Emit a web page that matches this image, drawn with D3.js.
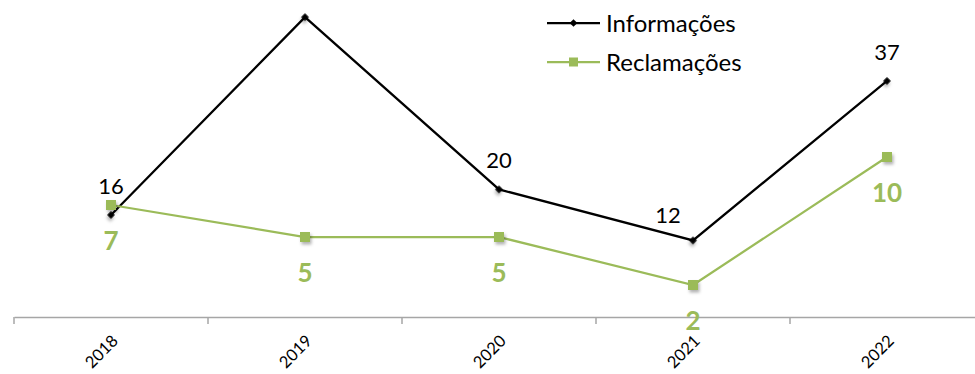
<!DOCTYPE html>
<html>
<head>
<meta charset="utf-8">
<script src="https://cdn.jsdelivr.net/npm/d3@7/dist/d3.min.js"></script>
<style>
  html, body { margin: 0; padding: 0; background: #fff; }
  svg { display: block; font-family: Lato, "Open Sans", sans-serif; }
</style>
</head>
<body>
<svg id="chart" width="975" height="374"></svg>
<script>
// chart data
const years = ["2018", "2019", "2020", "2021", "2022"];
const informacoes = [16, 47, 20, 12, 37];
const reclamacoes = [7, 5, 5, 2, 10];
// which value labels Excel shows for the black series (2019 has none)
const infoLabelShown = [true, false, true, true, true];

const seriesNames = ["Informações", "Reclamações"];
const BLACK = "#000";
const GREEN = "#9bbb59";

const width = 975, height = 374;
const baseY = 317;

const svg = d3.select("#chart");

// soft marker shadow, like the office chart
const defs = svg.append("defs");
const f = defs.append("filter").attr("id", "shadow")
  .attr("x", "-100%").attr("y", "-100%").attr("width", "300%").attr("height", "300%");
f.append("feDropShadow")
  .attr("dx", 1.5).attr("dy", 2.5).attr("stdDeviation", 1.8)
  .attr("flood-color", "#000").attr("flood-opacity", 0.3);

// x: five bands of ~194px, the last one runs off the right edge
const x = d3.scaleBand().domain(years).range([14, 984]);
const cx = (d) => x(d) + x.bandwidth() / 2;

// two value axes sharing the same baseline
const yInfo = d3.scaleLinear().domain([0, 50]).range([baseY, -2]);
const yRec = d3.scaleLinear().domain([0, 20]).range([baseY, -3]);

// category axis
const xAxis = d3.axisBottom(x).tickSize(0).tickFormat("");
const axisG = svg.append("g").attr("transform", `translate(0,${baseY})`).call(xAxis);
axisG.select(".domain").attr("stroke", "#a6a6a6").attr("stroke-width", 1.5);
axisG.selectAll(".tick").remove();

// tick marks between categories
const bounds = years.map((y) => x(y)).concat([x(years[years.length - 1]) + x.bandwidth()]);
svg.append("g").selectAll("line")
  .data(bounds)
  .join("line")
  .attr("x1", (d) => d).attr("x2", (d) => d)
  .attr("y1", baseY).attr("y2", baseY + 7)
  .attr("stroke", "#a6a6a6").attr("stroke-width", 1.5);

// rotated year labels
svg.append("g").selectAll("text")
  .data(years)
  .join("text")
  .attr("transform", (d) => `translate(${cx(d) + 4},${baseY + 21}) rotate(-45)`)
  .attr("text-anchor", "end")
  .attr("dy", "0.35em")
  .style("font-size", "16.5px")
  .style("fill", "#000")
  .text((d) => d);

// lines
const infoLine = d3.line().x((d, i) => cx(years[i])).y((d) => yInfo(d));
const recLine = d3.line().x((d, i) => cx(years[i])).y((d) => yRec(d));

svg.append("path")
  .datum(informacoes)
  .attr("d", infoLine)
  .attr("fill", "none")
  .attr("stroke", BLACK)
  .attr("stroke-width", 2.25);

svg.append("path")
  .datum(reclamacoes)
  .attr("d", recLine)
  .attr("fill", "none")
  .attr("stroke", GREEN)
  .attr("stroke-width", 2.25);

// markers: small rotated square for the black series, square for the green one
const diamond = d3.symbol().type(d3.symbolSquare).size(30);
svg.append("g").selectAll("path")
  .data(informacoes)
  .join("path")
  .attr("d", diamond)
  .attr("transform", (d, i) => `translate(${cx(years[i])},${yInfo(d)}) rotate(45)`)
  .attr("fill", BLACK)
  .attr("filter", "url(#shadow)");

svg.append("g").selectAll("rect")
  .data(reclamacoes)
  .join("rect")
  .attr("x", (d, i) => cx(years[i]) - 5)
  .attr("y", (d) => yRec(d) - 5)
  .attr("width", 10).attr("height", 10)
  .attr("fill", GREEN)
  .attr("filter", "url(#shadow)");

// value labels, black series above the point (2021 one sits up-left)
svg.append("g").selectAll("text")
  .data(informacoes.map((v, i) => ({ v, i })).filter((d) => infoLabelShown[d.i]))
  .join("text")
  .attr("x", (d) => cx(years[d.i]) + (d.i === 3 ? -25 : 0))
  .attr("y", (d) => yInfo(d.v) + (d.i === 3 ? -25 : -29))
  .attr("dy", "0.36em")
  .attr("text-anchor", "middle")
  .style("font-size", "22px")
  .style("fill", BLACK)
  .text((d) => d.v);

// green series labels below the point, bold
svg.append("g").selectAll("text")
  .data(reclamacoes)
  .join("text")
  .attr("x", (d, i) => cx(years[i]))
  .attr("y", (d) => yRec(d) + 36)
  .attr("dy", "0.36em")
  .attr("text-anchor", "middle")
  .style("font-size", "26px")
  .style("font-weight", "bold")
  .style("fill", GREEN)
  .text((d) => d);

// legend
const legend = svg.append("g").attr("transform", "translate(547,23)");
seriesNames.forEach((name, i) => {
  const g = legend.append("g").attr("transform", `translate(0,${i * 39})`);
  const col = i === 0 ? BLACK : GREEN;
  g.append("line")
    .attr("x1", 0).attr("x2", 53).attr("y1", 0).attr("y2", 0)
    .attr("stroke", col).attr("stroke-width", 2.25);
  if (i === 0) {
    g.append("path").attr("d", diamond).attr("transform", "translate(26.5,0) rotate(45)").attr("fill", col);
  } else {
    g.append("rect").attr("x", 22).attr("y", -4.5).attr("width", 9).attr("height", 9).attr("fill", col);
  }
  g.append("text")
    .attr("x", 59)
    .attr("y", 0)
    .attr("dy", "0.36em")
    .style("font-size", "24px")
    .style("fill", "#000")
    .text(name);
});
</script>
</body>
</html>
